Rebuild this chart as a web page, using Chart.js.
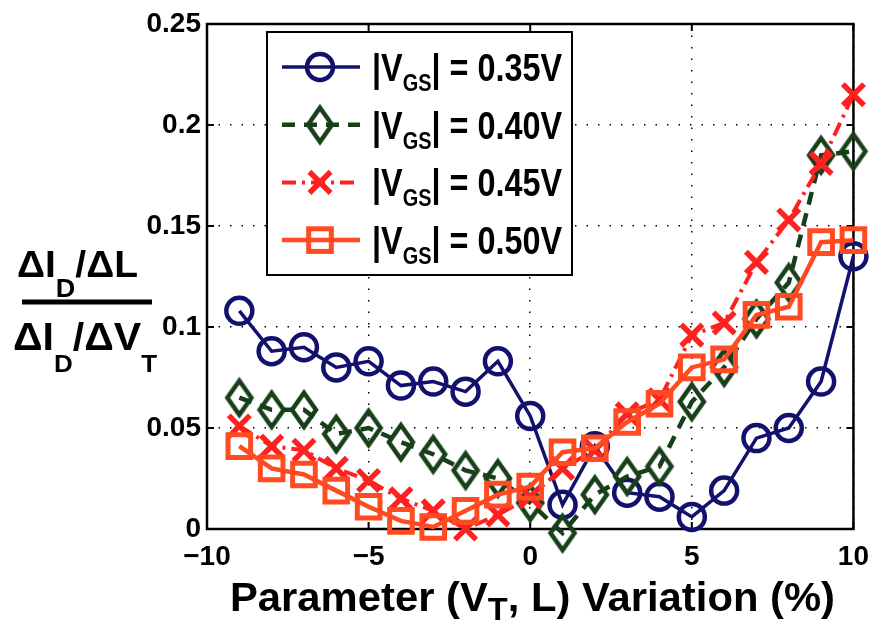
<!DOCTYPE html>
<html>
<head>
<meta charset="utf-8">
<title>Sensitivity ratio vs parameter variation</title>
<script src="https://cdn.jsdelivr.net/npm/chart.js@4.4.0/dist/chart.umd.min.js"></script>
<style>
  html, body { margin: 0; padding: 0; background: #fff; }
  canvas { display: block; }
</style>
</head>
<body>
<canvas id="ratioChart" width="880" height="637"></canvas>
<script>
// parameter variation in %, one point per integer step
var variation = [-9, -8, -7, -6, -5, -4, -3, -2, -1, 0, 1, 2, 3, 4, 5, 6, 7, 8, 9, 10];

// (dId/dL) / (dId/dVt) for each gate bias
var vgs035 = [0.108, 0.088, 0.090, 0.080, 0.083, 0.071, 0.073, 0.068, 0.083, 0.056,
              0.012, 0.041, 0.018, 0.016, 0.006, 0.019, 0.045, 0.050, 0.073, 0.135];
var vgs040 = [0.065, 0.059, 0.059, 0.047, 0.050, 0.043, 0.037, 0.029, 0.025, 0.013,
              -0.002, 0.017, 0.026, 0.031, 0.063, 0.080, 0.104, 0.122, 0.185, 0.187];
var vgs045 = [0.051, 0.041, 0.039, 0.030, 0.024, 0.015, 0.009, 0.000, 0.007, 0.016,
              0.030, 0.039, 0.057, 0.064, 0.096, 0.102, 0.132, 0.153, 0.181, 0.215];
var vgs050 = [0.041, 0.030, 0.027, 0.019, 0.011, 0.004, 0.001, 0.009, 0.017, 0.021,
              0.038, 0.040, 0.053, 0.062, 0.080, 0.084, 0.106, 0.110, 0.142, 0.143];

var biasLabels = ["0.35V", "0.40V", "0.45V", "0.50V"];

var FONT = '"Liberation Sans", Arial, Helvetica, sans-serif';
var NAVY = "#12126e", GREEN = "#173f19", RED = "#ff2020", ORANGE = "#ff4a22";

function points(values) {
  return values.map(function (v, i) { return { x: variation[i], y: v }; });
}

// open diamond, a bit taller than wide
function diamondImage(color) {
  var c = document.createElement("canvas");
  c.width = 34; c.height = 44;
  var g = c.getContext("2d");
  g.strokeStyle = color;
  g.lineWidth = 4.5;
  g.beginPath();
  g.moveTo(17, 5); g.lineTo(29, 22); g.lineTo(17, 39); g.lineTo(5, 22);
  g.closePath();
  g.stroke();
  return c;
}

var series = [vgs035, vgs040, vgs045, vgs050];
var styles = [
  { color: NAVY, width: 3.5, dash: [], point: "circle", radius: 13, pw: 4.5 },
  { color: GREEN, width: 4.5, dash: [13, 9], point: diamondImage(GREEN), radius: 16, pw: 4.5 },
  { color: RED, width: 4, dash: [14, 6, 3, 6], point: "crossRot", radius: 15, pw: 5.5 },
  { color: ORANGE, width: 4.5, dash: [], point: "rect", radius: 16, pw: 5 }
];

var datasets = series.map(function (vals, i) {
  var s = styles[i];
  return {
    label: biasLabels[i],
    data: points(vals),
    borderColor: s.color,
    borderWidth: s.width,
    borderDash: s.dash,
    pointStyle: s.point,
    pointRadius: s.radius,
    pointHoverRadius: s.radius,
    pointBorderWidth: s.pw,
    pointBorderColor: s.color,
    pointBackgroundColor: "rgba(0,0,0,0)",
    tension: 0,
    clip: false,
    order: 3 - i
  };
});

// bold text with subscripts; parts = [[text, isSub], ...]
function richText(ctx, parts, x, y, o) {
  var fMain = "bold " + o.size + "px " + FONT;
  var fSub = "bold " + o.sub + "px " + FONT;
  var w = 0;
  parts.forEach(function (p) {
    ctx.font = p[1] ? fSub : fMain;
    w += ctx.measureText(p[0]).width;
  });
  var sx = o.width ? o.width / w : 1;
  ctx.save();
  ctx.translate(x, y);
  ctx.scale(sx, 1);
  ctx.fillStyle = "#000";
  ctx.textAlign = "left";
  ctx.textBaseline = "alphabetic";
  var cx = 0;
  parts.forEach(function (p) {
    ctx.font = p[1] ? fSub : fMain;
    ctx.fillText(p[0], cx, p[1] ? o.drop : 0);
    cx += ctx.measureText(p[0]).width;
  });
  ctx.restore();
}

function drawMarker(ctx, s, x, y) {
  ctx.save();
  ctx.strokeStyle = s.color;
  ctx.lineWidth = s.pw;
  ctx.setLineDash([]);
  var r = s.radius;
  if (typeof s.point !== "string") {
    ctx.drawImage(s.point, x - s.point.width / 2, y - s.point.height / 2);
  } else if (s.point === "circle") {
    ctx.beginPath(); ctx.arc(x, y, r, 0, Math.PI * 2); ctx.stroke();
  } else if (s.point === "crossRot") {
    var d = r * Math.SQRT1_2;
    ctx.beginPath();
    ctx.moveTo(x - d, y - d); ctx.lineTo(x + d, y + d);
    ctx.moveTo(x + d, y - d); ctx.lineTo(x - d, y + d);
    ctx.stroke();
  } else {
    var h = r * Math.SQRT1_2;
    ctx.strokeRect(x - h, y - h, 2 * h, 2 * h);
  }
  ctx.restore();
}

// axes box with inward tick marks on all four sides
var framePlugin = {
  id: "frame",
  beforeDatasetsDraw: function (chart) {
    var a = chart.chartArea, ctx = chart.ctx;
    var xs = chart.scales.x, ys = chart.scales.y;
    ctx.save();
    ctx.strokeStyle = "#000";
    ctx.lineWidth = 2.5;
    ctx.strokeRect(a.left, a.top, a.right - a.left, a.bottom - a.top);
    ctx.lineWidth = 2;
    ctx.beginPath();
    xs.ticks.forEach(function (t) {
      var px = xs.getPixelForValue(t.value);
      ctx.moveTo(px, a.bottom); ctx.lineTo(px, a.bottom - 7);
      ctx.moveTo(px, a.top); ctx.lineTo(px, a.top + 7);
    });
    ys.ticks.forEach(function (t) {
      var py = ys.getPixelForValue(t.value);
      ctx.moveTo(a.left, py); ctx.lineTo(a.left + 7, py);
      ctx.moveTo(a.right, py); ctx.lineTo(a.right - 7, py);
    });
    ctx.stroke();
    ctx.restore();
  }
};

// axis titles and the boxed legend
var annotatePlugin = {
  id: "annotate",
  afterDraw: function (chart) {
    var ctx = chart.ctx;

    // y title as a fraction
    richText(ctx, [["\u0394I", 0], ["D", 1], ["/\u0394L", 0]], 17, 277,
      { size: 36, sub: 25, drop: 20, width: 121 });
    ctx.fillStyle = "#000";
    ctx.fillRect(22, 299.5, 130, 5);
    richText(ctx, [["\u0394I", 0], ["D", 1], ["/\u0394V", 0], ["T", 1]], 13, 350,
      { size: 38, sub: 24, drop: 22, width: 144 });

    // x title
    richText(ctx, [["Parameter (V", 0], ["T", 1], [", L) Variation (%)", 0]], 230, 611,
      { size: 41, sub: 32, drop: 9, width: 605 });

    // legend
    var lx = 267, ly = 32, lw = 305, lh = 243;
    ctx.save();
    ctx.fillStyle = "#fff";
    ctx.fillRect(lx, ly, lw, lh);
    ctx.strokeStyle = "#000";
    ctx.lineWidth = 2;
    ctx.strokeRect(lx, ly, lw, lh);
    ctx.restore();

    styles.forEach(function (s, i) {
      var cy = 67 + i * 57.7;
      ctx.save();
      ctx.strokeStyle = s.color;
      ctx.lineWidth = s.width;
      ctx.setLineDash(s.dash);
      ctx.beginPath();
      ctx.moveTo(282, cy); ctx.lineTo(360, cy);
      ctx.stroke();
      ctx.restore();
      drawMarker(ctx, s, 320, cy);
      richText(ctx, [["|V", 0], ["GS", 1], ["| = " + biasLabels[i], 0]], 372, cy + 14,
        { size: 39, sub: 24, drop: 10, width: 190 });
    });
  }
};

var tickFont = { family: FONT, size: 28, weight: "bold" };

new Chart(document.getElementById("ratioChart").getContext("2d"), {
  type: "line",
  data: { datasets: datasets },
  options: {
    responsive: false,
    animation: false,
    events: [],
    layout: { padding: { left: 0, right: 19, top: 24, bottom: 0 } },
    plugins: { legend: { display: false }, tooltip: { enabled: false } },
    scales: {
      x: {
        type: "linear",
        min: -10,
        max: 10,
        ticks: {
          stepSize: 5,
          color: "#000",
          font: tickFont,
          padding: 11,
          maxRotation: 0,
          callback: function (v) { return v < 0 ? "\u2212" + Math.abs(v) : String(v); }
        },
        grid: { color: "#000", lineWidth: 1.5, drawTicks: false },
        border: { display: false, dash: [1.5, 10] },
        afterFit: function (scale) { scale.height = 108; }
      },
      y: {
        min: 0,
        max: 0.25,
        ticks: {
          stepSize: 0.05,
          color: "#000",
          font: tickFont,
          padding: 6,
          callback: function (v) { return String(Number(v.toFixed(2))); }
        },
        grid: { color: "#000", lineWidth: 1.5, drawTicks: false },
        border: { display: false, dash: [1.5, 10] },
        afterFit: function (scale) { scale.width = 207; }
      }
    }
  },
  plugins: [framePlugin, annotatePlugin]
});
</script>
</body>
</html>
